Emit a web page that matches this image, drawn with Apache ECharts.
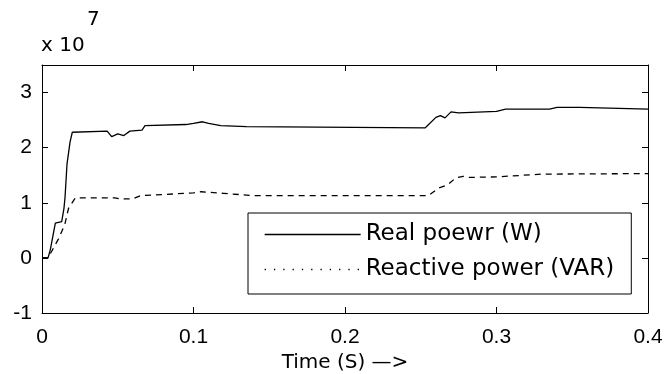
<!DOCTYPE html>
<html>
<head>
<meta charset="utf-8">
<script src="https://cdn.jsdelivr.net/npm/echarts@6/dist/echarts.min.js"></script>
<style>
html,body{margin:0;padding:0;background:#fff;}
#c{width:665px;height:374px;}
</style>
</head>
<body>
<div id="c"></div>
<script>
// Values in units of 1e7
const realTime = [0, 0.004, 0.0055, 0.0088, 0.013, 0.0145, 0.0152, 0.0165, 0.0185, 0.02, 0.043, 0.046, 0.05, 0.054, 0.058, 0.066, 0.068, 0.095, 0.1, 0.106, 0.11, 0.118, 0.135, 0.136, 0.253, 0.26, 0.263, 0.266, 0.27, 0.275, 0.3, 0.306, 0.335, 0.34, 0.355, 0.356, 0.4];
const realPower = [0, 0, 0.15, 0.63, 0.66, 0.9, 1.1, 1.7, 2.1, 2.28, 2.3, 2.2, 2.25, 2.22, 2.3, 2.32, 2.4, 2.42, 2.44, 2.47, 2.44, 2.4, 2.38, 2.36, 2.36, 2.55, 2.58, 2.54, 2.65, 2.63, 2.66, 2.7, 2.7, 2.73, 2.73, 2.7, 2.7];
const reactTime = [0, 0.004, 0.011, 0.015, 0.0175, 0.022, 0.048, 0.052, 0.06, 0.065, 0.08, 0.1, 0.105, 0.12, 0.14, 0.255, 0.262, 0.268, 0.273, 0.278, 0.282, 0.3, 0.33, 0.4];
const reactivePower = [0, 0, 0.35, 0.6, 0.9, 1.09, 1.09, 1.07, 1.07, 1.13, 1.15, 1.18, 1.2, 1.17, 1.13, 1.13, 1.27, 1.33, 1.45, 1.48, 1.46, 1.47, 1.52, 1.53];
const seriesNames = ['Real poewr (W)', 'Reactive power (VAR)'];
const xTicks = [0, 0.1, 0.2, 0.3, 0.4];
const yTicks = [-1, 0, 1, 2, 3];

const chart = echarts.init(document.getElementById('c'), null, {renderer: 'canvas'});
const pair = (xs, ys) => xs.map((x, i) => [x, ys[i]]);
const tickFont = {fontFamily: 'Liberation Sans', fontSize: 21, color: '#000'};
const axisLineStyle = {show: true, onZero: false, lineStyle: {color: '#000', width: 1}};
const tick = {show: true, inside: true, length: 6, lineStyle: {color: '#000', width: 1}};
const tickOut = {show: true, inside: false, length: 6, lineStyle: {color: '#000', width: 1}};
const noLine = {show: false, onZero: false};

chart.setOption({
  animation: false,
  backgroundColor: '#fff',
  grid: [
    {left: 42, right: 17, top: 65, bottom: 61, containLabel: false, outerBoundsMode: 'none'},
    // strip just above the plot: its bottom axis sits on the top border, ticks point down into the plot
    {left: 42, right: 17, top: 20, bottom: 309, containLabel: false, outerBoundsMode: 'none'},
    // strip just right of the plot: its left axis sits on the right border, ticks point left into the plot
    {left: 648, right: 2, top: 65, bottom: 61, containLabel: false, outerBoundsMode: 'none'}
  ],
  xAxis: [{
    gridIndex: 0, type: 'value', min: 0, max: 0.4, interval: 0.1, position: 'bottom',
    axisLine: axisLineStyle, axisTick: tick,
    splitLine: {show: false},
    axisLabel: Object.assign({margin: 14, formatter: v => xTicks.includes(+(+v).toFixed(2)) ? String(+(+v).toFixed(2)) : ''}, tickFont),
    name: 'Time (S) \u2014>', nameLocation: 'middle', nameGap: 35,
    nameTextStyle: {fontFamily: 'DejaVu Sans', fontSize: 20, color: '#000'}
  }, {
    gridIndex: 0, type: 'value', min: 0, max: 0.4, interval: 0.1, position: 'top',
    axisLine: axisLineStyle, axisTick: {show: false},
    axisLabel: {show: false}, splitLine: {show: false}
  }, {
    gridIndex: 1, type: 'value', min: 0, max: 0.4, interval: 0.1, position: 'bottom',
    axisLine: noLine, axisTick: tickOut,
    axisLabel: {show: false}, splitLine: {show: false}
  }, {
    gridIndex: 2, type: 'value', min: 0, max: 1, show: false
  }],
  yAxis: [{
    gridIndex: 0, type: 'value', min: -1, max: 3.5, interval: 1, position: 'left',
    axisLine: axisLineStyle, axisTick: tick,
    splitLine: {show: false},
    axisLabel: Object.assign({margin: 10, formatter: v => yTicks.includes(+v) ? String(v) : ''}, tickFont)
  }, {
    gridIndex: 0, type: 'value', min: -1, max: 3.5, interval: 1, position: 'right',
    axisLine: axisLineStyle, axisTick: {show: false},
    axisLabel: {show: false}, splitLine: {show: false}
  }, {
    gridIndex: 1, type: 'value', min: 0, max: 1, show: false
  }, {
    gridIndex: 2, type: 'value', min: -1, max: 3.5, interval: 1, position: 'left',
    axisLine: noLine, axisTick: tickOut,
    axisLabel: {show: false}, splitLine: {show: false}
  }],
  legend: {
    show: true,
    orient: 'vertical', left: 248, top: 213,
    backgroundColor: '#fff', borderColor: '#000', borderWidth: 1,
    padding: [10, 17, 13, 16], itemGap: 12, itemWidth: 96, itemHeight: 14,
    textStyle: {fontFamily: 'DejaVu Sans', fontSize: 23, color: '#000'},
    itemStyle: {opacity: 0},
    data: [
      {name: seriesNames[0], lineStyle: {type: 'solid', width: 1.3, color: '#000'}},
      {name: seriesNames[1], lineStyle: {type: [1.3, 8], width: 1.3, color: '#000'}}
    ]
  },
  graphic: [
    {type: 'text', left: 41, top: 36, style: {text: 'x 10', fontFamily: 'DejaVu Sans', fontSize: 20, fill: '#000'}},
    {type: 'text', left: 87, top: 10, style: {text: '7', fontFamily: 'DejaVu Sans', fontSize: 20, fill: '#000'}}
  ],
  series: [{
    name: seriesNames[0], type: 'line', data: pair(realTime, realPower),
    showSymbol: false, symbol: 'none', xAxisIndex: 0, yAxisIndex: 0,
    lineStyle: {color: '#000', width: 1.3, type: 'solid'}, itemStyle: {color: '#000'}
  }, {
    name: seriesNames[1], type: 'line', data: pair(reactTime, reactivePower),
    showSymbol: false, symbol: 'none', xAxisIndex: 1, yAxisIndex: 1,
    lineStyle: {color: '#000', width: 1.3, type: [6, 5]}, itemStyle: {color: '#000'}
  }]
});
</script>
</body>
</html>
